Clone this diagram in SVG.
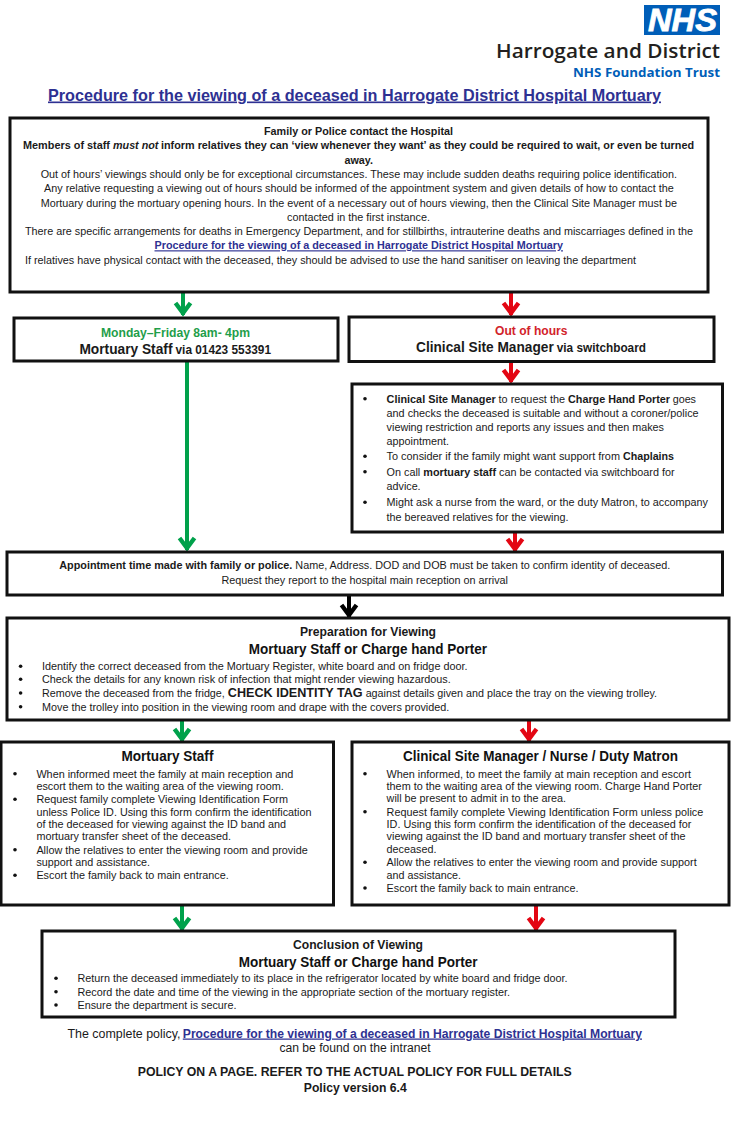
<svg xmlns="http://www.w3.org/2000/svg" width="751" height="1135" viewBox="0 0 751 1135">
<style>
text{font-family:"Liberation Sans",Arial,sans-serif;font-size:11.5px;fill:#1a1a1a}
.b{font-weight:bold}
.h{font-weight:bold;font-size:14px;fill:#111}
.l{font-weight:bold;fill:#2e3192;text-decoration:underline}
.box{fill:#fff;stroke:#111;stroke-width:3}
.bu{fill:#111}
.ln{fill:none;stroke-width:4}
</style>
<defs>
<marker id="ag" markerUnits="userSpaceOnUse" markerWidth="24" markerHeight="24" refX="20" refY="12" orient="auto"><path d="M8 4.5 L18 12 L8 19.5" fill="none" stroke="#00a14b" stroke-width="4.4"/></marker>
<marker id="ar" markerUnits="userSpaceOnUse" markerWidth="24" markerHeight="24" refX="20" refY="12" orient="auto"><path d="M8 4.5 L18 12 L8 19.5" fill="none" stroke="#e30613" stroke-width="4.4"/></marker>
<marker id="ak" markerUnits="userSpaceOnUse" markerWidth="24" markerHeight="24" refX="20" refY="12" orient="auto"><path d="M8 4.5 L18 12 L8 19.5" fill="none" stroke="#000" stroke-width="4.4"/></marker>
</defs>
<rect width="751" height="1135" fill="#fff"/>
<g id="logo">
<rect x="644" y="5" width="76" height="30" fill="#005eb8"/>
<text x="648" y="31" textLength="69" lengthAdjust="spacingAndGlyphs" style="font-size:31px;font-weight:bold;font-style:italic;fill:#fff;stroke:#fff;stroke-width:.8">NHS</text>
<text x="496" y="58" textLength="224" lengthAdjust="spacingAndGlyphs" style="font-family:'Open Sans',sans-serif;font-size:20.5px;font-weight:600;fill:#231f20">Harrogate and District</text>
<text x="573" y="76.7" textLength="147" lengthAdjust="spacingAndGlyphs" style="font-family:'Open Sans',sans-serif;font-size:12.5px;font-weight:700;fill:#005eb8">NHS Foundation Trust</text>
</g>
<g id="title"><text class="l" x="48" y="100.5" textLength="613" lengthAdjust="spacingAndGlyphs" style="font-size:16.5px">Procedure for the viewing of a deceased in Harrogate District Hospital Mortuary</text></g>
<g id="connectors">
<path class="ln" d="M183 293V315" stroke="#00a14b" marker-end="url(#ag)"/>
<path class="ln" d="M511 293V315" stroke="#e30613" marker-end="url(#ar)"/>
<path class="ln" d="M511 362V382" stroke="#e30613" marker-end="url(#ar)"/>
<path class="ln" d="M187 362V550" stroke="#00a14b" marker-end="url(#ag)"/>
<path class="ln" d="M515 532V551" stroke="#e30613" marker-end="url(#ar)"/>
<path class="ln" d="M349 596V617" stroke="#000" marker-end="url(#ak)"/>
<path class="ln" d="M182 720V741" stroke="#00a14b" marker-end="url(#ag)"/>
<path class="ln" d="M529 718V741" stroke="#e30613" marker-end="url(#ar)"/>
<path class="ln" d="M182 905V930" stroke="#00a14b" marker-end="url(#ag)"/>
<path class="ln" d="M536 905V930" stroke="#e30613" marker-end="url(#ar)"/>
</g>
<g id="contact">
<rect class="box" x="10" y="118" width="698" height="174"/>
<text class="b" x="264" y="135" textLength="189" lengthAdjust="spacingAndGlyphs">Family or Police contact the Hospital</text>
<text class="b" x="23" y="149.3" textLength="87" lengthAdjust="spacingAndGlyphs">Members of staff</text>
<text class="b" x="113" y="149.3" textLength="45.4" lengthAdjust="spacingAndGlyphs" font-style="italic">must not</text>
<text class="b" x="161" y="149.3" textLength="533" lengthAdjust="spacingAndGlyphs">inform relatives they can ‘view whenever they want’ as they could be required to wait, or even be turned</text>
<text class="b" x="344.5" y="163.7" textLength="28.5" lengthAdjust="spacingAndGlyphs">away.</text>
<text x="40.7" y="178" textLength="636.3" lengthAdjust="spacingAndGlyphs">Out of hours’ viewings should only be for exceptional circumstances. These may include sudden deaths requiring police identification.</text>
<text x="44" y="192.3" textLength="629.7" lengthAdjust="spacingAndGlyphs">Any relative requesting a viewing out of hours should be informed of the appointment system and given details of how to contact the</text>
<text x="40.7" y="206.7" textLength="636.3" lengthAdjust="spacingAndGlyphs">Mortuary during the mortuary opening hours. In the event of a necessary out of hours viewing, then the Clinical Site Manager must be</text>
<text x="287" y="220.7" textLength="143" lengthAdjust="spacingAndGlyphs">contacted in the first instance.</text>
<text x="25" y="235" textLength="668" lengthAdjust="spacingAndGlyphs">There are specific arrangements for deaths in Emergency Department, and for stillbirths, intrauterine deaths and miscarriages defined in the</text>
<text class="l" x="154.5" y="249.3" textLength="408.5" lengthAdjust="spacingAndGlyphs">Procedure for the viewing of a deceased in Harrogate District Hospital Mortuary</text>
<text x="25" y="263.7" textLength="611" lengthAdjust="spacingAndGlyphs">If relatives have physical contact with the deceased, they should be advised to use the hand sanitiser on leaving the department</text>
</g>
<g id="office-hours">
<rect class="box" x="14" y="318" width="324" height="43"/>
<text class="b" x="101" y="336.5" textLength="149" lengthAdjust="spacingAndGlyphs" style="font-size:13px;fill:#1f9e4a">Monday–Friday 8am- 4pm</text>
<text class="b" x="79.4" y="353.5" textLength="191.6" lengthAdjust="spacingAndGlyphs"><tspan style="font-size:14.5px">Mortuary Staff</tspan> <tspan style="font-size:12.5px">via 01423 553391</tspan></text>
</g>
<g id="out-of-hours">
<rect class="box" x="349" y="317" width="365" height="44.5"/>
<text class="b" x="495" y="335" textLength="72.5" lengthAdjust="spacingAndGlyphs" style="font-size:13px;fill:#d2232a">Out of hours</text>
<text class="b" x="416" y="352" textLength="230" lengthAdjust="spacingAndGlyphs"><tspan style="font-size:14.5px">Clinical Site Manager</tspan> <tspan style="font-size:12.5px">via switchboard</tspan></text>
</g>
<g id="out-of-hours-steps">
<rect class="box" x="352" y="384" width="370.5" height="148"/>
<circle class="bu" cx="365" cy="398.7" r="1.8"/><circle class="bu" cx="365" cy="456.3" r="1.8"/><circle class="bu" cx="365" cy="471.7" r="1.8"/><circle class="bu" cx="365" cy="502.3" r="1.8"/>
<text class="b" x="386.6" y="402.7" textLength="109.1" lengthAdjust="spacingAndGlyphs" style="font-size:10.8px">Clinical Site Manager</text>
<text x="498.6" y="402.7" textLength="66.4" lengthAdjust="spacingAndGlyphs" style="font-size:10.8px">to request the</text>
<text class="b" x="568" y="402.7" textLength="102" lengthAdjust="spacingAndGlyphs" style="font-size:10.5px">Charge Hand Porter</text>
<text x="672.7" y="402.7" textLength="23.3" lengthAdjust="spacingAndGlyphs" style="font-size:10.8px">goes</text>
<text x="386.6" y="416.7" textLength="312" lengthAdjust="spacingAndGlyphs">and checks the deceased is suitable and without a coroner/police</text>
<text x="386.6" y="431" textLength="277.4" lengthAdjust="spacingAndGlyphs">viewing restriction and reports any issues and then makes</text>
<text x="386.6" y="445.3" textLength="62.4" lengthAdjust="spacingAndGlyphs">appointment.</text>
<text x="386.6" y="460.3" textLength="233.4" lengthAdjust="spacingAndGlyphs" style="font-size:10.8px">To consider if the family might want support from</text>
<text class="b" x="623" y="460.3" textLength="51" lengthAdjust="spacingAndGlyphs" style="font-size:10.8px">Chaplains</text>
<text x="386.6" y="475.7" textLength="288" lengthAdjust="spacingAndGlyphs">On call <tspan class="b">mortuary staff</tspan> can be contacted via switchboard for</text>
<text x="386.6" y="489.7" textLength="34" lengthAdjust="spacingAndGlyphs">advice.</text>
<text x="386.6" y="506.3" textLength="321.4" lengthAdjust="spacingAndGlyphs">Might ask a nurse from the ward, or the duty Matron, to accompany</text>
<text x="386.6" y="520.7" textLength="181.8" lengthAdjust="spacingAndGlyphs">the bereaved relatives for the viewing.</text>
</g>
<g id="appointment">
<rect class="box" x="7" y="552" width="715.5" height="43"/>
<text x="59.3" y="569.3" textLength="611" lengthAdjust="spacingAndGlyphs"><tspan class="b">Appointment time made with family or police.</tspan> Name, Address. DOD and DOB must be taken to confirm identity of deceased.</text>
<text x="221.5" y="583.7" textLength="286.5" lengthAdjust="spacingAndGlyphs">Request they report to the hospital main reception on arrival</text>
</g>
<g id="preparation">
<rect class="box" x="7" y="618" width="722" height="102"/>
<text class="b" x="300" y="636.3" textLength="136" lengthAdjust="spacingAndGlyphs" style="font-size:12.5px">Preparation for Viewing</text>
<text class="h" x="248.8" y="654" textLength="238.2" lengthAdjust="spacingAndGlyphs">Mortuary Staff or Charge hand Porter</text>
<circle class="bu" cx="20.6" cy="666.3" r="1.8"/><circle class="bu" cx="20.6" cy="679.3" r="1.8"/><circle class="bu" cx="20.6" cy="693" r="1.8"/><circle class="bu" cx="20.6" cy="706.7" r="1.8"/>
<text x="42" y="670.3" textLength="425.5" lengthAdjust="spacingAndGlyphs">Identify the correct deceased from the Mortuary Register, white board and on fridge door.</text>
<text x="42" y="683.3" textLength="408.7" lengthAdjust="spacingAndGlyphs">Check the details for any known risk of infection that might render viewing hazardous.</text>
<text x="42" y="697" textLength="615" lengthAdjust="spacingAndGlyphs">Remove the deceased from the fridge, <tspan class="b" style="font-size:13.5px">CHECK IDENTITY TAG</tspan> against details given and place the tray on the viewing trolley.</text>
<text x="42" y="710.7" textLength="407.3" lengthAdjust="spacingAndGlyphs">Move the trolley into position in the viewing room and drape with the covers provided.</text>
</g>
<g id="mortuary-staff">
<rect class="box" x="1" y="742" width="332.5" height="163"/>
<text class="h" x="121.5" y="761" textLength="91.9" lengthAdjust="spacingAndGlyphs">Mortuary Staff</text>
<circle class="bu" cx="15" cy="773.7" r="1.8"/><circle class="bu" cx="15" cy="799.3" r="1.8"/><circle class="bu" cx="15" cy="849.7" r="1.8"/><circle class="bu" cx="15" cy="875.3" r="1.8"/>
<text x="36.4" y="777.7" textLength="256.9" lengthAdjust="spacingAndGlyphs">When informed meet the family at main reception and</text>
<text x="36.4" y="790" textLength="247.3" lengthAdjust="spacingAndGlyphs">escort them to the waiting area of the viewing room.</text>
<text x="36.4" y="803.3" textLength="251.6" lengthAdjust="spacingAndGlyphs">Request family complete Viewing Identification Form</text>
<text x="36.4" y="815.7" textLength="275.1" lengthAdjust="spacingAndGlyphs">unless Police ID. Using this form confirm the identification</text>
<text x="36.4" y="827.7" textLength="249.6" lengthAdjust="spacingAndGlyphs">of the deceased for viewing against the ID band and</text>
<text x="36.4" y="840" textLength="194.6" lengthAdjust="spacingAndGlyphs">mortuary transfer sheet of the deceased.</text>
<text x="36.4" y="853.7" textLength="271.3" lengthAdjust="spacingAndGlyphs">Allow the relatives to enter the viewing room and provide</text>
<text x="36.4" y="866" textLength="113.6" lengthAdjust="spacingAndGlyphs">support and assistance.</text>
<text x="36.4" y="879.3" textLength="192.3" lengthAdjust="spacingAndGlyphs">Escort the family back to main entrance.</text>
</g>
<g id="site-manager">
<rect class="box" x="352" y="742" width="377" height="163"/>
<text class="h" x="403" y="761" textLength="275" lengthAdjust="spacingAndGlyphs">Clinical Site Manager / Nurse / Duty Matron</text>
<circle class="bu" cx="365" cy="773.7" r="1.8"/><circle class="bu" cx="365" cy="811.7" r="1.8"/><circle class="bu" cx="365" cy="862.3" r="1.8"/><circle class="bu" cx="365" cy="888" r="1.8"/>
<text x="386.6" y="777.7" textLength="304.4" lengthAdjust="spacingAndGlyphs">When informed, to meet the family at main reception and escort</text>
<text x="386.6" y="790" textLength="315.4" lengthAdjust="spacingAndGlyphs">them to the waiting area of the viewing room. Charge Hand Porter</text>
<text x="386.6" y="802.3" textLength="179.4" lengthAdjust="spacingAndGlyphs">will be present to admit in to the area.</text>
<text x="386.6" y="815.7" textLength="316.7" lengthAdjust="spacingAndGlyphs">Request family complete Viewing Identification Form unless police</text>
<text x="386.6" y="827.7" textLength="304.8" lengthAdjust="spacingAndGlyphs">ID. Using this form confirm the identification of the deceased for</text>
<text x="386.6" y="840.3" textLength="299" lengthAdjust="spacingAndGlyphs">viewing against the ID band and mortuary transfer sheet of the</text>
<text x="386.6" y="853" textLength="49.8" lengthAdjust="spacingAndGlyphs">deceased.</text>
<text x="386.6" y="866.3" textLength="310.1" lengthAdjust="spacingAndGlyphs">Allow the relatives to enter the viewing room and provide support</text>
<text x="386.6" y="878.7" textLength="74.4" lengthAdjust="spacingAndGlyphs">and assistance.</text>
<text x="386.6" y="892" textLength="191.9" lengthAdjust="spacingAndGlyphs">Escort the family back to main entrance.</text>
</g>
<g id="conclusion">
<rect class="box" x="42" y="931" width="633" height="86"/>
<text class="b" x="293" y="948.7" textLength="130" lengthAdjust="spacingAndGlyphs" style="font-size:12.5px">Conclusion of Viewing</text>
<text class="h" x="238.8" y="966.5" textLength="238.7" lengthAdjust="spacingAndGlyphs">Mortuary Staff or Charge hand Porter</text>
<circle class="bu" cx="56" cy="978.3" r="1.8"/><circle class="bu" cx="56" cy="991.7" r="1.8"/><circle class="bu" cx="56" cy="1005" r="1.8"/>
<text x="77.5" y="982.3" textLength="490" lengthAdjust="spacingAndGlyphs">Return the deceased immediately to its place in the refrigerator located by white board and fridge door.</text>
<text x="77.5" y="995.7" textLength="432.5" lengthAdjust="spacingAndGlyphs">Record the date and time of the viewing in the appropriate section of the mortuary register.</text>
<text x="77.5" y="1009" textLength="158.9" lengthAdjust="spacingAndGlyphs">Ensure the department is secure.</text>
</g>
<g id="footer">
<text x="67.5" y="1037.5" textLength="113" lengthAdjust="spacingAndGlyphs" style="font-size:12.5px">The complete policy,</text>
<text class="l" x="182.8" y="1037.5" textLength="459.2" lengthAdjust="spacingAndGlyphs" style="font-size:12.5px">Procedure for the viewing of a deceased in Harrogate District Hospital Mortuary</text>
<text x="279.4" y="1051.5" textLength="151.2" lengthAdjust="spacingAndGlyphs" style="font-size:12.5px">can be found on the intranet</text>
<text class="b" x="137.8" y="1075.5" textLength="434" lengthAdjust="spacingAndGlyphs" style="font-size:12.5px">POLICY ON A PAGE. REFER TO THE ACTUAL POLICY FOR FULL DETAILS</text>
<text class="b" x="303.8" y="1092" textLength="102.9" lengthAdjust="spacingAndGlyphs" style="font-size:12.5px">Policy version 6.4</text>
</g>
</svg>
